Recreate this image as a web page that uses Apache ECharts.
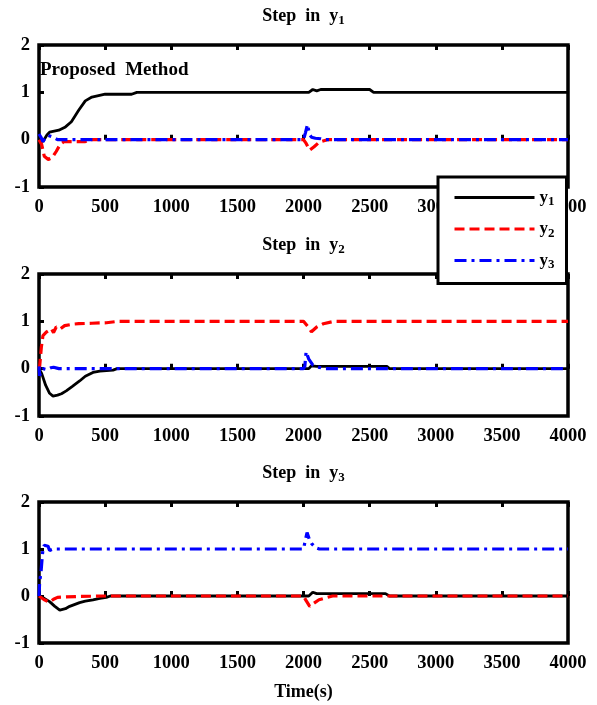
<!DOCTYPE html>
<html><head><meta charset="utf-8">
<script src="https://cdn.jsdelivr.net/npm/echarts@6/dist/echarts.min.js"></script>
<style>html,body{margin:0;padding:0;background:#fff}#c{width:597px;height:705px}</style>
</head><body><div id="c"></div>
<script>
// ---- Data ----
const plotTitles = ['Step  in  y|1', 'Step  in  y|2', 'Step  in  y|3'];
const seriesNames = ['y1', 'y2', 'y3'];
const xTickStep = 500, xMin = 0, xMax = 4000;
const yMin = -1, yMax = 2, yTickStep = 1;

// Plot 1: step in y1
const p1_y1_t = [0, 30, 60, 80, 150, 200, 245, 300, 350, 400, 450, 500, 700, 740, 2040, 2070, 2100, 2130, 2500, 2530, 4000];
const p1_y1_v = [0, -0.04, 0.1, 0.16, 0.2, 0.27, 0.38, 0.62, 0.82, 0.9, 0.93, 0.96, 0.96, 1.0, 1.0, 1.06, 1.03, 1.06, 1.06, 1.0, 1.0];
const p1_y2_t = [0, 20, 40, 70, 100, 130, 160, 190, 350, 380, 2000, 2020, 2047, 2080, 2120, 2180, 4000];
const p1_y2_v = [0, -0.1, -0.35, -0.42, -0.38, -0.25, -0.1, -0.04, -0.04, 0, 0, -0.08, -0.22, -0.15, -0.05, 0, 0];
const p1_y3_t = [0, 15, 30, 50, 70, 100, 140, 2000, 2015, 2030, 2045, 2060, 2090, 2130, 2160, 4000];
const p1_y3_v = [0.12, 0.05, -0.04, 0.05, 0.09, 0.06, 0, 0, 0.15, 0.32, 0.12, 0.05, 0.03, 0.02, 0, 0];

// Plot 2: step in y2
const p2_y1_t = [0, 20, 50, 80, 106, 140, 170, 206, 250, 307, 350, 408, 460, 560, 590, 2040, 2060, 2100, 2630, 2650, 4000];
const p2_y1_v = [0, -0.1, -0.35, -0.52, -0.58, -0.56, -0.53, -0.47, -0.38, -0.26, -0.16, -0.08, -0.05, -0.03, 0, 0, 0.06, 0.05, 0.05, 0, 0];
const p2_y2_t = [0, 5, 18, 30, 55, 94, 110, 130, 160, 194, 257, 300, 400, 510, 600, 2000, 2030, 2060, 2100, 2150, 2230, 4000];
const p2_y2_v = [0, 0.05, 0.46, 0.7, 0.77, 0.84, 0.76, 0.88, 0.84, 0.91, 0.94, 0.95, 0.96, 0.97, 1.0, 1.0, 0.9, 0.78, 0.88, 0.95, 1.0, 1.0];
const p2_y3_t = [0, 5, 15, 30, 60, 90, 110, 150, 2000, 2010, 2020, 2040, 2070, 2100, 2160, 4000];
const p2_y3_v = [0.05, -0.15, -0.05, 0, -0.02, 0.02, 0.03, 0, 0, 0.05, 0.36, 0.2, 0.08, 0.04, 0, 0];

// Plot 3: step in y3
const p3_y1_t = [0, 40, 80, 120, 157, 200, 232, 307, 350, 408, 460, 509, 540, 2040, 2070, 2100, 2620, 2650, 4000];
const p3_y1_v = [0, -0.05, -0.12, -0.22, -0.3, -0.27, -0.22, -0.14, -0.11, -0.08, -0.05, -0.03, 0, 0, 0.08, 0.05, 0.05, 0, 0];
const p3_y2_t = [0, 40, 80, 110, 140, 200, 300, 500, 2000, 2020, 2047, 2080, 2117, 2180, 2220, 4000];
const p3_y2_v = [0, -0.08, -0.13, -0.07, -0.03, -0.02, -0.01, 0, 0, -0.1, -0.22, -0.15, -0.08, -0.03, 0, 0];
const p3_y3_t = [0, 5, 15, 22, 30, 40, 68, 80, 95, 110, 2000, 2015, 2027, 2045, 2060, 2090, 2120, 4000];
const p3_y3_v = [0, 0.3, 0.5, 0.75, 1.0, 1.08, 1.06, 0.97, 1.0, 1.0, 1.0, 1.2, 1.35, 1.2, 1.12, 1.03, 1.0, 1.0];

const plots = [
  [[p1_y1_t, p1_y1_v], [p1_y2_t, p1_y2_v], [p1_y3_t, p1_y3_v]],
  [[p2_y1_t, p2_y1_v], [p2_y2_t, p2_y2_v], [p2_y3_t, p2_y3_v]],
  [[p3_y1_t, p3_y1_v], [p3_y2_t, p3_y2_v], [p3_y3_t, p3_y3_v]]
];

// ---- Styling ----
const FONT = '"Liberation Serif", "Times New Roman", serif';
const colors = ['#000000', '#ff0000', '#0000ff'];
const lineStyles = [
  { width: 2.8, type: 'solid' },
  { width: 3.2, type: [10, 5] },
  { width: 3.2, type: [12, 5, 3, 5] }
];
const gridTops = [45, 274, 502];
const gridHeights = [142, 142, 141];
const titleCenters = [15, 244, 472];

const grids = [], xAxes = [], yAxes = [], series = [], titles = [];
const subRich = {
  s: { fontFamily: FONT, fontWeight: 'bold', fontSize: 13, color: '#000', padding: [9, 0, 0, 0] }
};

for (let i = 0; i < 3; i++) {
  grids.push({ left: 39, right: 29, top: gridTops[i], height: gridHeights[i], show: true,
    borderColor: '#000', borderWidth: 3.5, backgroundColor: '#fff' });
  xAxes.push({
    type: 'value', gridIndex: i, min: xMin, max: xMax, interval: xTickStep, position: 'bottom',
    axisLine: { show: false }, splitLine: { show: false },
    axisTick: { show: true, inside: true, length: 5, lineStyle: { color: '#000', width: 3 } },
    axisLabel: { color: '#000', fontFamily: FONT, fontWeight: 'bold', fontSize: 18.5, margin: 11,
      formatter: v => String(v) },
    name: i === 2 ? 'Time(s)' : '', nameLocation: 'middle', nameGap: 40,
    nameTextStyle: { color: '#000', fontFamily: FONT, fontWeight: 'bold', fontSize: 18 }
  });
  yAxes.push({
    type: 'value', gridIndex: i, min: yMin, max: yMax, interval: yTickStep,
    axisLine: { show: false }, splitLine: { show: false },
    axisTick: { show: true, inside: true, length: 5, lineStyle: { color: '#000', width: 3 } },
    axisLabel: { color: '#000', fontFamily: FONT, fontWeight: 'bold', fontSize: 18.5, margin: 9,
      formatter: v => String(v) }
  });
  const parts = plotTitles[i].split('|');
  titles.push({
    text: parts[0] + '{s|' + parts[1] + '}', left: 303.5, textAlign: 'center', top: titleCenters[i] - 10, padding: 0,
    textStyle: { fontFamily: FONT, fontWeight: 'bold', fontSize: 18, color: '#000', rich: subRich }
  });
  for (let k = 0; k < 3; k++) {
    const [t, v] = plots[i][k];
    series.push({
      name: seriesNames[k], type: 'line', xAxisIndex: i, yAxisIndex: i,
      data: t.map((x, j) => [x, v[j]]), symbol: 'none', animation: false,
      lineStyle: Object.assign({ color: colors[k] }, lineStyles[k]),
      itemStyle: { color: colors[k] }, z: 3 + k
    });
  }
}
for (let i = 0; i < 3; i++) {
  xAxes.push({
    type: 'value', gridIndex: i, min: xMin, max: xMax, interval: xTickStep, position: 'top',
    axisLine: { show: false }, splitLine: { show: false }, axisLabel: { show: false },
    axisTick: { show: true, inside: true, length: 5, lineStyle: { color: '#000', width: 3 } }
  });
}
titles.push({
  text: 'Proposed  Method', left: 40, top: 61, padding: 0,
  textStyle: { fontFamily: FONT, fontWeight: 'bold', fontSize: 19, color: '#000' }
});

const chart = echarts.init(document.getElementById('c'), null, { renderer: 'canvas' });
chart.setOption({
  animation: false,
  backgroundColor: '#fff',
  title: titles,
  grid: grids,
  xAxis: xAxes,
  yAxis: yAxes,
  legend: {
    data: seriesNames, orient: 'vertical', left: 438, top: 177, z: 20,
    backgroundColor: '#fff', borderColor: '#000', borderWidth: 3,
    padding: [12, 12, 12, 15], itemGap: 12, itemWidth: 80, itemHeight: 18, itemTextGap: 8,
    itemStyle: { opacity: 0, borderWidth: 0 },
    lineStyle: { width: 3 },
    formatter: n => 'y{s|' + n.slice(1) + '}',
    textStyle: { fontFamily: FONT, fontWeight: 'bold', fontSize: 17, color: '#000', rich: subRich }
  },
  series: series
});
</script></body></html>
